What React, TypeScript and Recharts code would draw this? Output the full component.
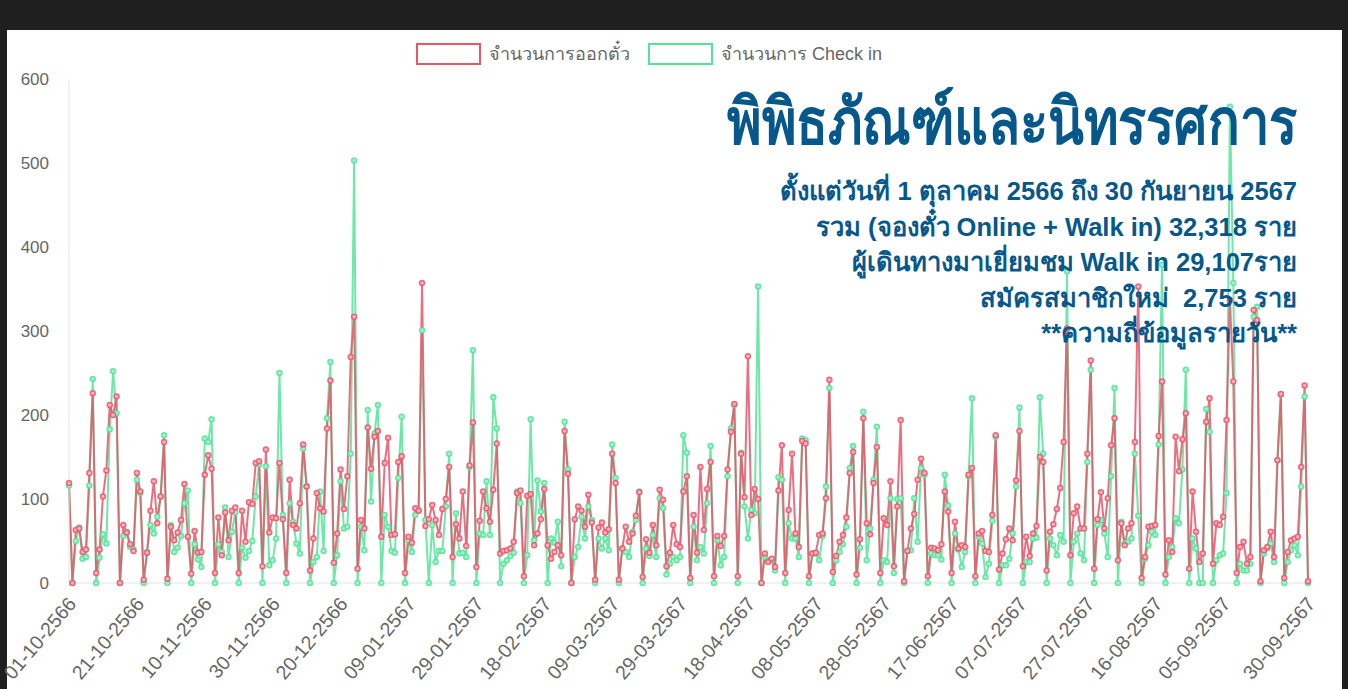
import React from "react";
import { LineChart, Line, XAxis, YAxis } from "recharts";

// daily figures, 1 Oct 2566 (Sunday) .. 30 Sep 2567, one row per week
const ticketsIssued = [
  119, 0, 63, 65, 37, 40, 131,
  226, 12, 40, 103, 134, 212, 200,
  222, 0, 69, 60, 46, 38, 131,
  109, 4, 36, 86, 121, 71, 103,
  168, 5, 67, 51, 60, 75, 118,
  55, 11, 62, 36, 37, 129, 152,
  136, 12, 78, 33, 84, 51, 86,
  90, 12, 86, 49, 96, 94, 143,
  145, 20, 159, 60, 78, 77, 143,
  76, 12, 123, 69, 65, 95, 165,
  115, 15, 53, 107, 89, 85, 184,
  241, 24, 59, 135, 88, 127, 269,
  317, 17, 75, 65, 185, 136, 174,
  181, 55, 143, 173, 57, 58, 144,
  151, 12, 55, 48, 89, 86, 357,
  68, 76, 93, 75, 57, 88, 100,
  138, 31, 70, 53, 109, 44, 140,
  191, 19, 74, 109, 89, 73, 111,
  166, 35, 38, 39, 41, 49, 107,
  110, 8, 104, 106, 45, 59, 76,
  112, 45, 29, 37, 45, 33, 181,
  130, 0, 76, 91, 86, 67, 105,
  72, 4, 66, 72, 60, 64, 154,
  119, 4, 41, 67, 49, 59, 80,
  108, 7, 52, 36, 69, 45, 111,
  99, 20, 36, 69, 46, 43, 109,
  127, 6, 81, 36, 138, 63, 112,
  144, 8, 56, 44, 56, 135, 180,
  213, 8, 154, 102, 270, 81, 112,
  100, 0, 35, 25, 29, 19, 110,
  164, 12, 87, 154, 59, 43, 169,
  166, 8, 35, 36, 57, 59, 101,
  242, 13, 32, 49, 57, 78, 131,
  156, 10, 52, 196, 71, 58, 119,
  162, 12, 77, 69, 121, 20, 91,
  194, 2, 38, 65, 82, 123, 148,
  131, 8, 42, 41, 39, 46, 109,
  85, 12, 73, 41, 45, 43, 129,
  137, 8, 59, 62, 38, 37, 81,
  176, 16, 35, 52, 65, 51, 122,
  181, 20, 55, 32, 59, 68, 150,
  144, 15, 61, 70, 88, 113, 168,
  303, 33, 83, 91, 65, 65, 154,
  265, 17, 76, 108, 65, 101, 164,
  196, 27, 71, 45, 65, 71, 168,
  353, 6, 31, 67, 68, 69, 175,
  240, 10, 51, 37, 174, 133, 171,
  202, 17, 109, 61, 25, 35, 192,
  220, 23, 71, 69, 79, 194, 337,
  240, 12, 43, 49, 23, 31, 325,
  313, 2, 39, 43, 61, 31, 146,
  225, 6, 37, 51, 53, 55, 138,
  235, 2,
];

const checkIns = [
  116, 0, 50, 66, 29, 31, 116,
  243, 0, 30, 58, 47, 183, 252,
  202, 0, 56, 61, 43, 40, 123,
  107, 0, 37, 69, 59, 79, 103,
  176, 0, 69, 37, 42, 56, 95,
  110, 0, 46, 28, 19, 172, 168,
  195, 0, 46, 37, 90, 31, 61,
  84, 0, 42, 30, 38, 50, 103,
  141, 0, 139, 21, 27, 53, 250,
  81, 0, 95, 73, 47, 35, 160,
  115, 0, 25, 31, 109, 38, 196,
  263, 0, 33, 121, 65, 67, 154,
  503, 0, 67, 39, 206, 97, 178,
  212, 0, 81, 67, 38, 36, 125,
  198, 0, 51, 37, 81, 87, 301,
  75, 0, 69, 25, 38, 38, 91,
  154, 0, 83, 35, 36, 31, 138,
  277, 0, 59, 57, 121, 57, 221,
  184, 0, 23, 27, 32, 36, 109,
  95, 0, 33, 195, 51, 122, 85,
  119, 0, 53, 48, 73, 20, 192,
  135, 0, 31, 43, 79, 53, 91,
  75, 0, 53, 41, 53, 39, 165,
  125, 0, 41, 37, 31, 61, 75,
  109, 0, 41, 32, 57, 31, 101,
  89, 10, 23, 31, 27, 31, 176,
  155, 0, 67, 27, 43, 35, 95,
  163, 0, 51, 21, 31, 127, 184,
  212, 0, 155, 91, 53, 87, 83,
  353, 0, 31, 27, 27, 15, 126,
  123, 0, 71, 53, 53, 31, 172,
  170, 0, 35, 35, 27, 56, 115,
  232, 0, 27, 37, 46, 67, 137,
  163, 0, 42, 204, 27, 65, 123,
  186, 0, 27, 25, 101, 12, 100,
  101, 0, 38, 39, 101, 49, 137,
  129, 0, 35, 33, 33, 28, 129,
  92, 0, 59, 40, 19, 37, 127,
  220, 0, 55, 47, 7, 23, 74,
  174, 0, 21, 21, 29, 59, 115,
  209, 0, 25, 25, 53, 54, 221,
  154, 0, 53, 45, 33, 57, 49,
  371, 0, 49, 59, 35, 27, 144,
  254, 0, 69, 75, 59, 31, 127,
  232, 0, 73, 47, 49, 53, 154,
  80, 0, 29, 45, 61, 57, 165,
  379, 0, 31, 43, 77, 71, 135,
  254, 0, 53, 41, 0, 0, 207,
  180, 0, 27, 33, 35, 107, 567,
  357, 0, 23, 15, 15, 23, 317,
  329, 0, 35, 41, 47, 25, 146,
  224, 0, 25, 39, 45, 33, 115,
  222, 0,
];

const tickLabels = [
  "01-10-2566", "21-10-2566", "10-11-2566", "30-11-2566", "20-12-2566",
  "09-01-2567", "29-01-2567", "18-02-2567", "09-03-2567", "29-03-2567",
  "18-04-2567", "08-05-2567", "28-05-2567", "17-06-2567", "07-07-2567",
  "27-07-2567", "16-08-2567", "05-09-2567", "30-09-2567",
];
const yTicks = [0, 100, 200, 300, 400, 500, 600];

const subtitleLines = [
  "ตั้งแต่วันที่ 1 ตุลาคม 2566 ถึง 30 กันยายน 2567",
  "รวม (จองตั๋ว Online + Walk in) 32,318 ราย",
  "ผู้เดินทางมาเยี่ยมชม Walk in 29,107ราย",
  "สมัครสมาชิกใหม่  2,753 ราย",
  "**ความถี่ข้อมูลรายวัน**",
];

const RED = "#e8566a";
const GREEN = "#55e39a";

// dd-mm-yyyy (Buddhist year) for each day of the series
const pad = (n: number) => String(n).padStart(2, "0");
const days = ticketsIssued.map((_, i) => {
  const d = new Date(2023, 9, 1 + i);
  return `${pad(d.getDate())}-${pad(d.getMonth() + 1)}-${d.getFullYear() + 543}`;
});

const data = days.map((date, i) => ({
  date,
  tickets: ticketsIssued[i],
  checkin: checkIns[i],
}));

const DateTick = (props: any) => {
  const { x, y, payload } = props;
  return (
    <g transform={`translate(${x + 3},${y + 9})`}>
      <text
        textAnchor="end"
        transform="rotate(-50)"
        fill="#666"
        fontSize={19.5}
        dy="0.35em"
        fontFamily="Liberation Sans, Arial, sans-serif"
      >
        {payload.value}
      </text>
    </g>
  );
};

const LegendBox = ({ color, label, gap }: { color: string; label: string; gap: number }) => (
  <div style={{ display: "flex", alignItems: "center", marginRight: gap }}>
    <div
      style={{
        width: 61,
        height: 18,
        border: `2px solid ${color}`,
        background: "rgba(255,255,255,0.9)",
        marginRight: 8,
      }}
    />
    <span style={{ color: "#666", fontSize: 18 }}>{label}</span>
  </div>
);

export default function App() {
  return (
    <div
      style={{
        position: "absolute",
        left: 0,
        top: 0,
        width: 1348,
        height: 689,
        background: "#1f1f1f",
        overflow: "hidden",
        fontFamily: "Liberation Sans, Arial, sans-serif",
      }}
    >
      <div
        style={{
          position: "absolute",
          left: 7,
          top: 30,
          width: 1335,
          height: 659,
          background: "#fff",
        }}
      />
      <div style={{ position: "absolute", left: 0, top: 0 }}>
        <LineChart
          width={1348}
          height={689}
          data={data}
          margin={{ top: 79, right: 40, bottom: 10, left: 19 }}
        >
          <XAxis
            dataKey="date"
            ticks={tickLabels}
            interval={0}
            height={96}
            tick={<DateTick />}
            tickLine={false}
            axisLine={{ stroke: "#e3e3e3" }}
          />
          <YAxis
            domain={[0, 600]}
            ticks={yTicks}
            width={50}
            tickLine={false}
            tickSize={10}
            tickMargin={10}
            axisLine={{ stroke: "#e3e3e3" }}
            tick={{ fill: "#666", fontSize: 17 }}
          />
          <Line
            dataKey="checkin"
            stroke={GREEN}
            strokeWidth={2}
            strokeOpacity={0.85}
            dot={{ r: 2.5, strokeWidth: 1.5, fill: "#a8f0c8", stroke: GREEN }}
            isAnimationActive={false}
          />
          <Line
            dataKey="tickets"
            stroke={RED}
            strokeWidth={2}
            strokeOpacity={0.85}
            dot={{ r: 2.5, strokeWidth: 1.5, fill: "#f6b3bd", stroke: RED }}
            isAnimationActive={false}
          />
        </LineChart>
      </div>
      <div
        style={{
          position: "absolute",
          top: 39,
          left: 416,
          display: "flex",
        }}
      >
        <LegendBox color={RED} label="จำนวนการออกตั๋ว" gap={18} />
        <LegendBox color={GREEN} label="จำนวนการ Check in" gap={0} />
      </div>
      <div
        style={{
          position: "absolute",
          right: 51,
          top: 86,
          textAlign: "right",
          color: "#07588a",
          fontWeight: 700,
        }}
      >
        <div
          style={{
            fontSize: 64,
            lineHeight: "72px",
            fontWeight: 800,
            transform: "scaleX(0.82)",
            transformOrigin: "right center",
            whiteSpace: "nowrap",
          }}
        >
          พิพิธภัณฑ์และนิทรรศการ
        </div>
        <div style={{ marginTop: 16 }}>
          {subtitleLines.map((t) => (
            <div key={t} style={{ fontSize: 25.5, lineHeight: "35.5px", whiteSpace: "pre" }}>
              {t}
            </div>
          ))}
        </div>
      </div>
    </div>
  );
}
